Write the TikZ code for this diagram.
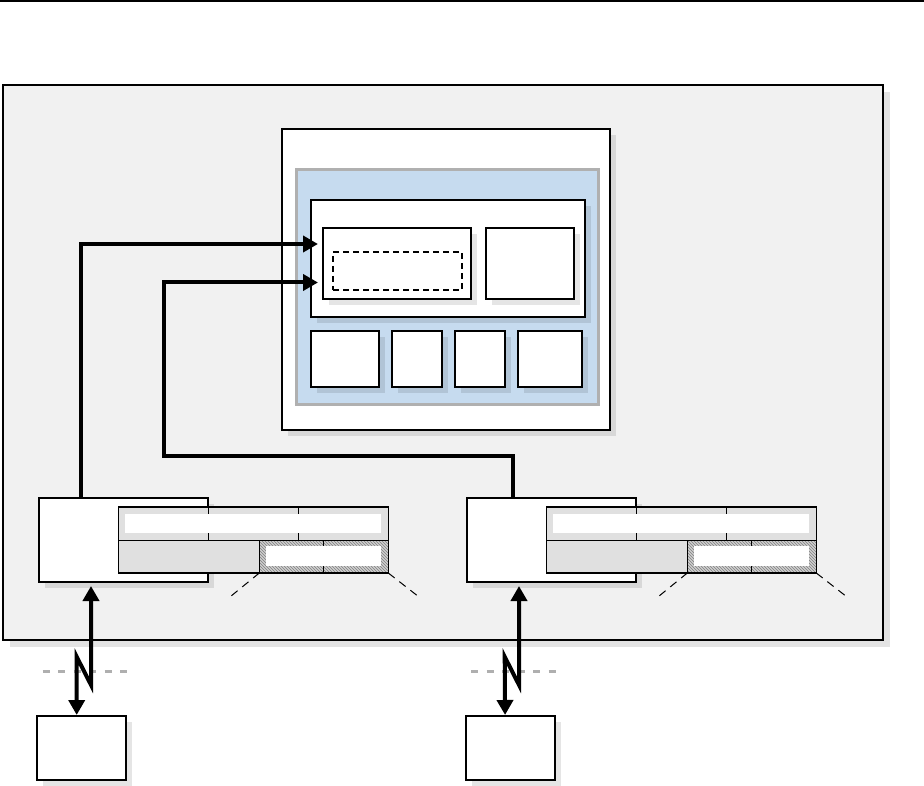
\documentclass[tikz,border=0pt]{standalone}
\usetikzlibrary{arrows.meta,shadows,patterns}
\definecolor{bggray}{HTML}{F1F1F1}
\definecolor{paleblue}{HTML}{C6DBEF}
\definecolor{rimgray}{HTML}{B0B0B0}
\definecolor{cellgray}{HTML}{E0E0E0}
\definecolor{hatchfill}{HTML}{CFCFCF}
\definecolor{hatchline}{HTML}{808080}
\definecolor{dashgray}{HTML}{AFAFAF}
\newcommand{\mkbox}[6]{\node[#6, anchor=north west, inner sep=0pt, outer sep=0pt,
  minimum width={(#4)-(#2)}, minimum height={(#5)-(#3)}] (#1) at (#2,-#3) {};}
\newcommand{\nictab}[2]{%
  \mkbox{tbl#1}{118.3+#2}{507}{388.3+#2}{573}{tblbox}
  \fill[hatchfill] (259.3+#2,-540.3) rectangle (388.3+#2,-573);
  \fill[pattern=north west lines, pattern color=hatchline] (259.3+#2,-540.3) rectangle (388.3+#2,-573);
  \draw[cellline] (208.3+#2,-507) -- (208.3+#2,-540.3);
  \draw[cellline] (298.3+#2,-507) -- (298.3+#2,-540.3);
  \draw[cellline] (323.3+#2,-540.3) -- (323.3+#2,-573);
  \fill[white] (125+#2,-514) rectangle (381+#2,-533);
  \fill[white] (266+#2,-546) rectangle (381+#2,-566);
  \draw[cellline] (tbl#1.west |- 0,-540.3) -- (tbl#1.east |- 0,-540.3);
  \draw[cellline] (259.3+#2,-540.3) -- (259.3+#2,-573);
  \draw[line width=1.4pt] (tbl#1.north west) rectangle (tbl#1.south east);
  \coordinate (hl#1) at (259.3+#2,-573);
  \coordinate (hr#1) at (388.3+#2,-573);
  \coordinate (fl#1) at (228.3+#2,-598.3);
  \coordinate (fr#1) at (420.7+#2,-598.3);
  \draw[fanline] (hl#1) -- (fl#1);
  \draw[fanline] (hr#1) -- (fr#1);
}
\begin{document}
\begin{tikzpicture}[x=1pt,y=1pt,
  shadowed/.style={drop shadow={shadow xshift=6pt,shadow yshift=-6pt,fill=black,opacity=0.1}},
  outerbox/.style={draw, fill=bggray, line width=2.5pt, drop shadow={shadow xshift=7pt,shadow yshift=-7pt,fill=black,opacity=0.11}},
  wbox/.style={draw, fill=white, line width=2pt, shadowed},
  bluebox/.style={draw=rimgray, fill=paleblue, line width=3pt},
  dashbox/.style={draw, line width=1.2pt, dash pattern=on 6pt off 4pt},
  tblbox/.style={fill=cellgray},
  cellline/.style={line width=1pt},
  fanline/.style={line width=1pt, dash pattern=on 8pt off 6pt},
  graydash/.style={draw=dashgray, line width=3.5pt, dash pattern=on 7pt off 8.5pt},
  bigarrow/.style={line width=4pt, -{Triangle[length=15pt,width=16pt]}, shorten >=5pt},
  lightarrow/.style={line width=4pt, {Triangle[length=15pt,width=16pt]}-{Triangle[length=15pt,width=16pt]}, shorten <=4pt, shorten >=1pt}
]
\useasboundingbox (0,0) rectangle (924,-786);
\draw[line width=1.5pt] (0,-1) -- (924,-1);

\mkbox{outer}{3}{85}{883}{640}{outerbox}
\mkbox{server}{282}{129}{610}{430}{wbox}
\mkbox{blue}{296}{170}{598}{404}{bluebox}
\mkbox{inner}{311}{200}{585}{317}{wbox}
\mkbox{inL}{323}{228}{471}{299}{wbox}
\mkbox{dashed}{333}{252}{462}{290}{dashbox}
\mkbox{inR}{486}{228}{574}{299}{wbox}
\mkbox{b1}{311}{331}{379}{387}{wbox}
\mkbox{b2}{392}{331}{442}{387}{wbox}
\mkbox{b3}{455}{331}{505}{387}{wbox}
\mkbox{b4}{518}{331}{582}{387}{wbox}

\mkbox{nicL}{39}{498}{208}{582}{wbox}
\mkbox{nicR}{467}{498}{636}{582}{wbox}
\nictab{L}{0}
\nictab{R}{428}

\mkbox{devL}{37.3}{716}{126.3}{780}{wbox}
\mkbox{devR}{465.7}{716}{554.7}{780}{wbox}

\draw[graydash] (42.7,-671.7) -- (128.3,-671.7);
\draw[graydash] (471,-671.7) -- (556,-671.7);

\draw[bigarrow] ([xshift=41.7pt]nicL.north west) |- ([yshift=-16pt]inL.north west);
\coordinate (turn) at (164,-456);
\draw[bigarrow] ([xshift=45.5pt]nicR.north west) |- (turn) |- ([yshift=-54.5pt]inL.north west);

\draw[lightarrow] ([xshift=52pt]nicL.south west) -- ++(0,-103) -- ++(-14.3,28.3) -- ([xshift=39.4pt]devL.north west);
\draw[lightarrow] ([xshift=52pt]nicR.south west) -- ++(0,-103) -- ++(-14.3,28.3) -- ([xshift=39.4pt]devR.north west);
\end{tikzpicture}
\end{document}
